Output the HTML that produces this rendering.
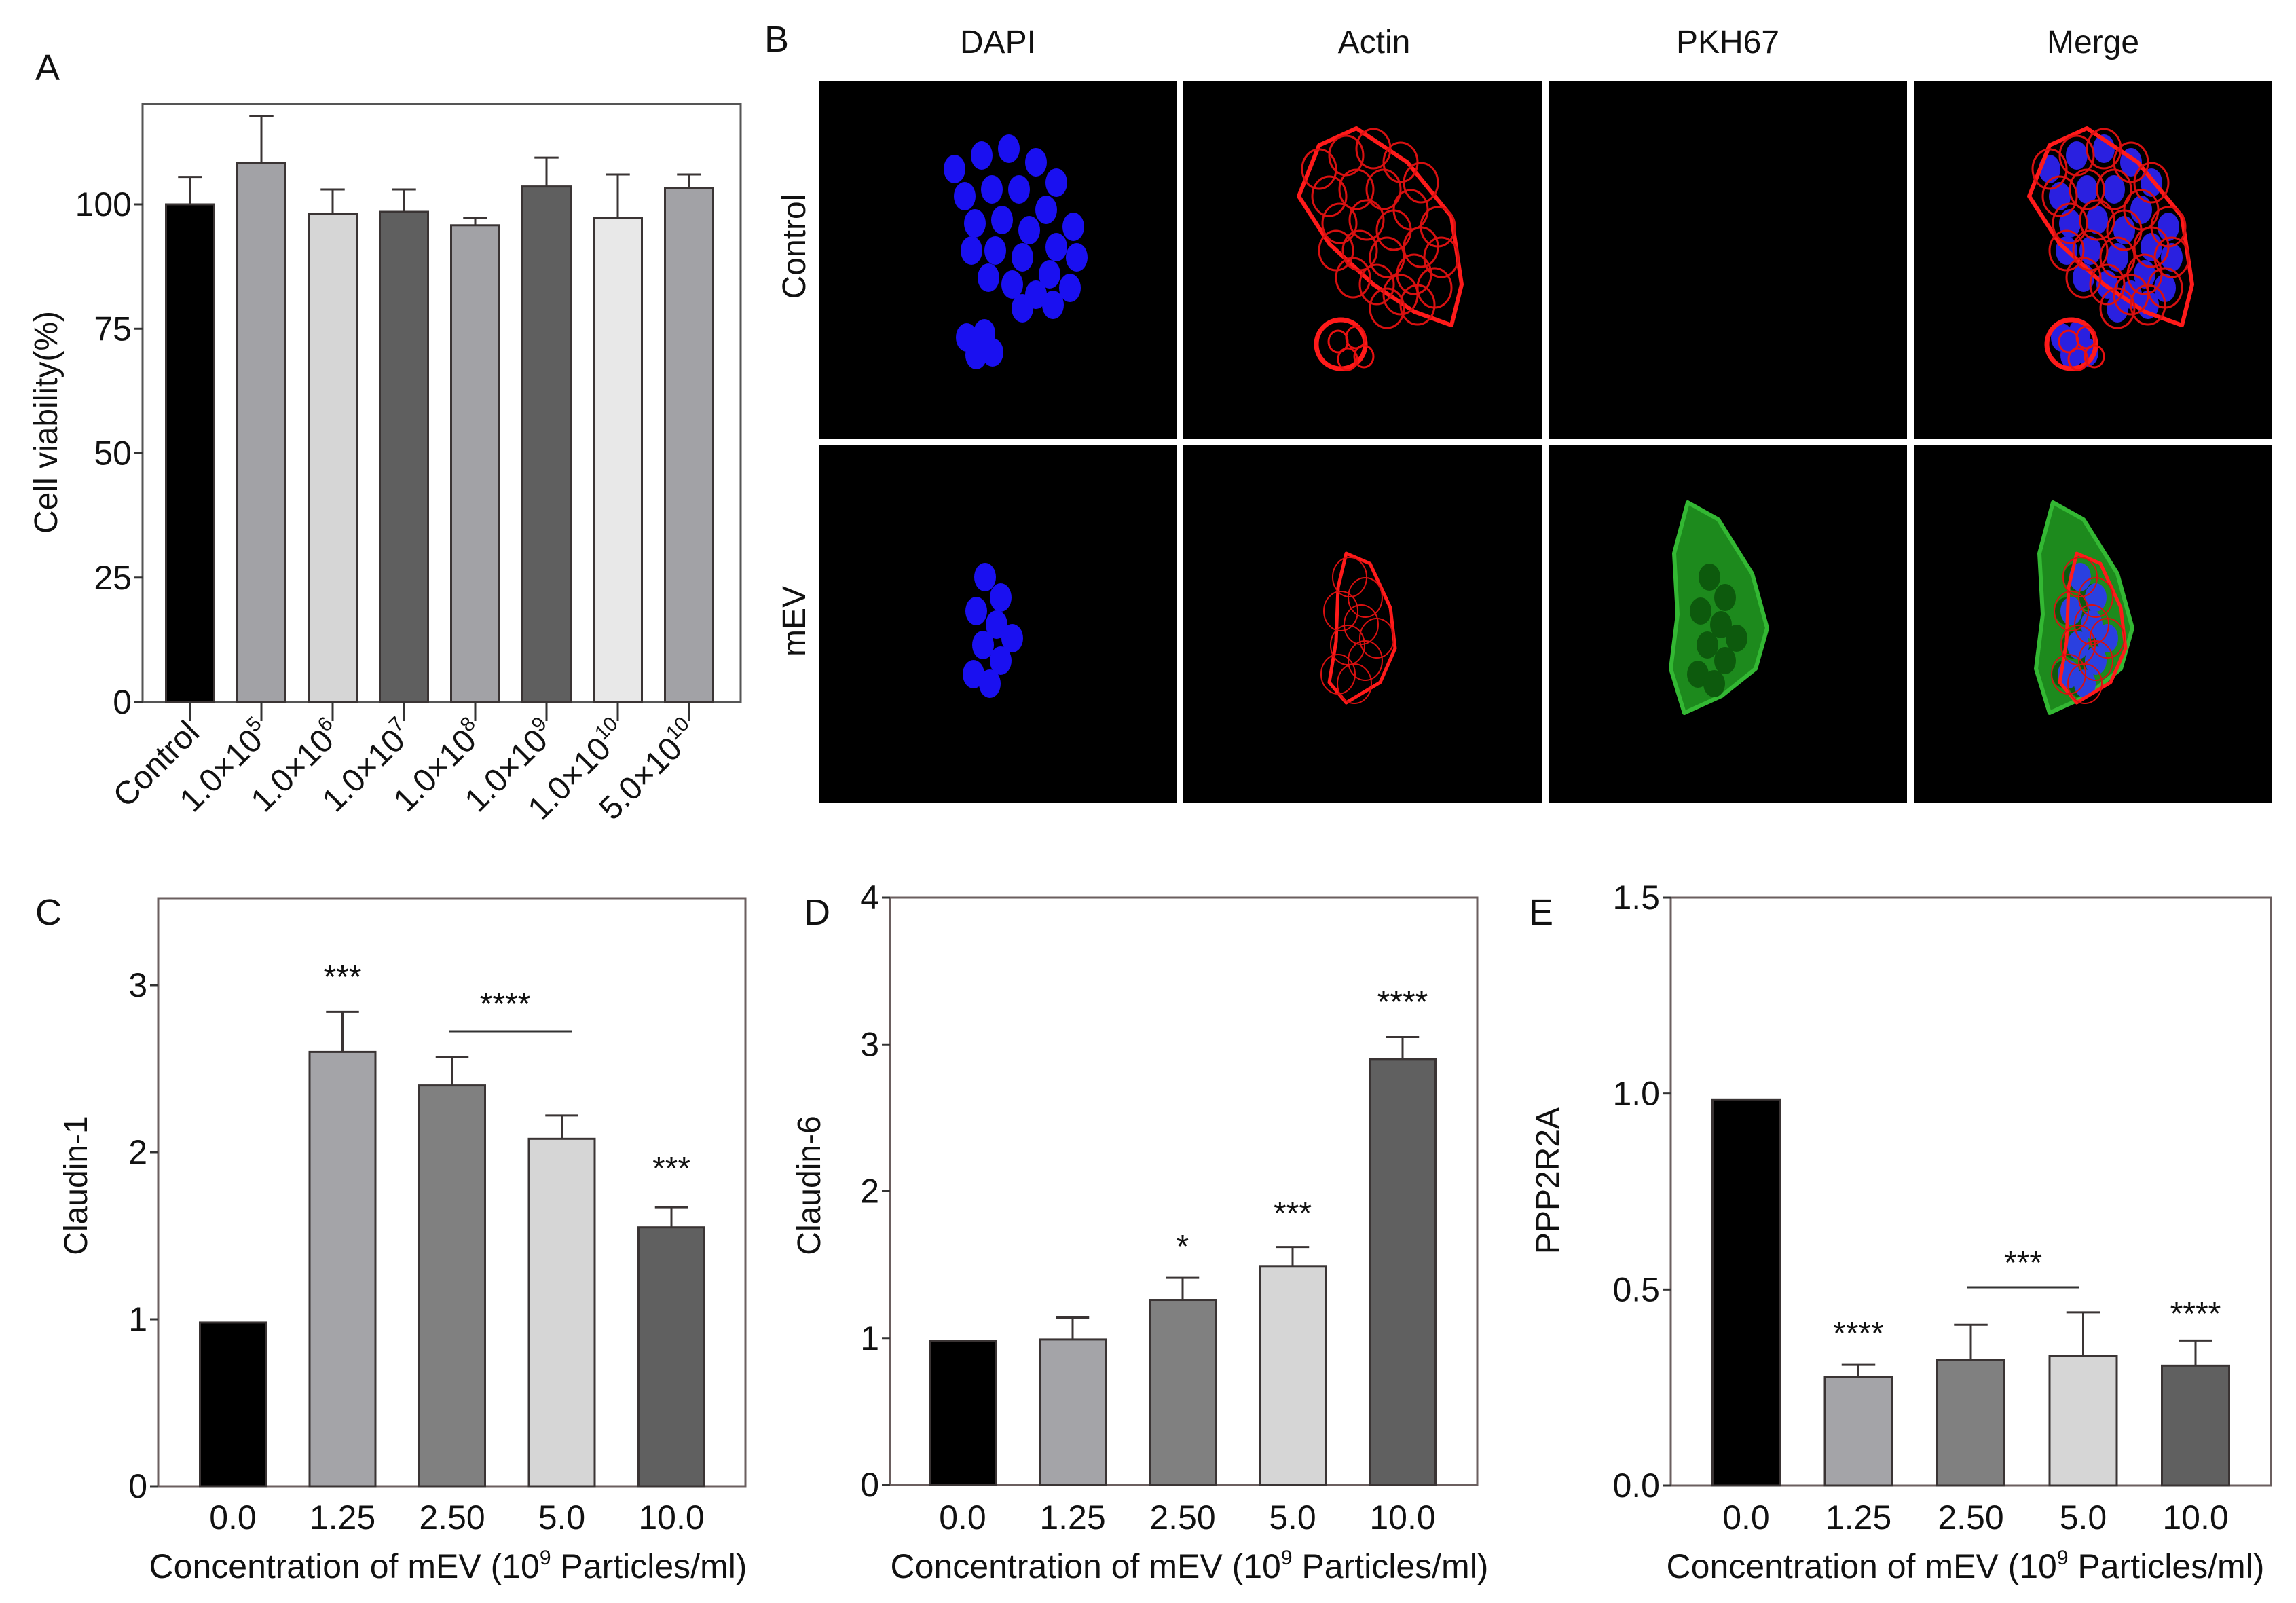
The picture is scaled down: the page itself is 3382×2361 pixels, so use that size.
<!DOCTYPE html>
<html><head><meta charset="utf-8">
<style>
html,body{margin:0;padding:0;background:#fff;}
svg{display:block;font-family:"Liberation Sans",Arial,sans-serif;}
</style></head>
<body>
<svg id="fig" width="3382" height="2361" viewBox="0 0 3382 2361" xmlns="http://www.w3.org/2000/svg">
<rect x="0" y="0" width="3382" height="2361" fill="#fff"/>
<g id="micro"></g>
<g id="charts"></g>
</svg>
<script>
// ---------- Panel A data ----------
const aCats = ["Control","1.0×10^5","1.0×10^6","1.0×10^7","1.0×10^8","1.0×10^9","1.0×10^10","5.0×10^10"];
const aValues = [100,108.3,98.1,98.5,95.8,103.6,97.3,103.3];
const aErrors = [105.5,117.8,103,103,97.2,109.4,106,106];
const aTicks = [0,25,50,75,100];
// ---------- Panel C data ----------
const cCats = ["0.0","1.25","2.50","5.0","10.0"];
const cValues = [0.98,2.6,2.4,2.08,1.55];
const cErrors = [0.98,2.84,2.57,2.22,1.67];
const cTicks = [0,1,2,3];
// ---------- Panel D data ----------
const dCats = ["0.0","1.25","2.50","5.0","10.0"];
const dValues = [0.98,0.99,1.26,1.49,2.9];
const dErrors = [0.98,1.14,1.41,1.62,3.05];
const dTicks = [0,1,2,3,4];
// ---------- Panel E data ----------
const eCats = ["0.0","1.25","2.50","5.0","10.0"];
const eValues = [0.985,0.277,0.32,0.331,0.306];
const eErrors = [0.985,0.308,0.41,0.442,0.37];
const eTicks = ["0.0","0.5","1.0","1.5"];

const NS="http://www.w3.org/2000/svg";
const charts=document.getElementById('charts');
function mk(tag,attrs,parent){const e=document.createElementNS(NS,tag);for(const k in attrs)e.setAttribute(k,attrs[k]);(parent||charts).appendChild(e);return e;}

function panel(o){
  const g=mk('g',{});
  
  
  const ys=v=>o.y0-(v-o.min)/(o.max-o.min)*(o.y0-o.yTop);
  const xs=i=>o.first+o.step*i;
  const fr=mk('rect',{x:o.left,y:o.frameTop,width:o.right-o.left,height:o.y0-o.frameTop,fill:'none',stroke:o.frameColor,'stroke-width':3},g);
  
  
  o.ticks.forEach(t=>{
    const v=parseFloat(t);const y=ys(v);
    const tl=mk('line',{x1:o.left-12,x2:o.left,y1:y,y2:y,stroke:'#333','stroke-width':3},g);
    
    
    const tx=mk('text',{x:o.left-16,y:y+17,'text-anchor':'end','font-size':o.tickFont,fill:'#111'},g);
    tx.textContent=t;
    
    
  });
  o.values.forEach((v,i)=>{
    const cx=xs(i);const w=o.barW;
    const top=ys(v);
    const b=mk('rect',{x:cx-w/2,y:top,width:w,height:o.y0-top,fill:o.colors[i],stroke:'#3a3434','stroke-width':3},g);
    
    
    const ev=o.errors[i];
    if(ev>v+0.0001){
      const ey=ys(ev);
      const el=mk('path',{d:`M${cx},${top} V${ey} M${cx-w*0.25},${ey} H${cx+w*0.25}`,stroke:'#3a3434','stroke-width':3,fill:'none'},g);
      
      
    }
    if(o.xticks){
      const xt=mk('line',{x1:cx,x2:cx,y1:o.y0,y2:o.y0+28,stroke:'#333','stroke-width':3},g);
      
      
    }
  });
  return {g,ys,xs};
}

function xLabels(p,cats,y,font){
  cats.forEach((c,i)=>{
    const t=mk('text',{x:p.xs(i),y:y,'text-anchor':'middle','font-size':font,fill:'#111'},p.g);
    t.textContent=c;
    
    
  });
}
function label(txt,x,y,size,name,extra){
  const t=mk('text',Object.assign({x:x,y:y,'font-size':size,fill:'#111'},extra||{}));
  t.textContent=txt;
  
  
  return t;
}
function xTitle(cx,y,name){
  const t=mk('text',{x:cx,y:y,'text-anchor':'middle','font-size':50,fill:'#111'});
  
  
  const a=mk('tspan',{},t);a.textContent='Concentration of mEV (10';
  const s=mk('tspan',{dy:-20,'font-size':30},t);s.textContent='9';
  const b=mk('tspan',{dy:20},t);b.textContent=' Particles/ml)';
}
function stars(txt,x,y,name){
  return label(txt,x,y,48,name,{'text-anchor':'middle'});
}
function sigLine(x1,x2,y){
  const l=mk('line',{x1:x1,x2:x2,y1:y,y2:y,stroke:'#333','stroke-width':3});
  
  
}

// ===== Panel A =====
const pA=panel({name:'panel-a-chart',cats:aCats,values:aValues,errors:aErrors,ticks:aTicks.map(String),
  left:210,right:1091,frameTop:153,y0:1034,yTop:301,min:0,max:100,barW:71,first:280,step:105,
  colors:['#000','#a2a2a6','#d6d6d6','#5f5f5f','#a2a2a6','#5f5f5f','#e8e8e8','#a2a2a6'],
  frameColor:'#555',tickFont:50,xticks:true});
aCats.forEach((c,i)=>{
  const x=pA.xs(i)+16,y=1082;
  const t=mk('text',{x:x,y:y,'text-anchor':'end','font-size':48,fill:'#111',transform:`rotate(-45 ${x} ${y})`},pA.g);
  
  
  const parts=c.split('^');
  const a=mk('tspan',{},t);a.textContent=parts[0];
  if(parts[1]){const s=mk('tspan',{dy:-20,'font-size':30},t);s.textContent=parts[1];}
});
label('Cell viability(%)',0,0,48,'y-axis-title',{'text-anchor':'middle',transform:'translate(84 622) rotate(-90)'});
label('A',52,118,54,'panel-label-a');

// ===== Panel C =====
const pC=panel({name:'panel-c-chart',cats:cCats,values:cValues,errors:cErrors,ticks:cTicks.map(String),
  left:233,right:1098,frameTop:1323,y0:2189,yTop:1451,min:0,max:3,barW:97,first:343,step:161.5,
  colors:['#000','#a4a4a8','#808080','#d6d6d6','#606060'],frameColor:'#6b5f5f',tickFont:50});
xLabels(pC,cCats,2252,50);
xTitle(660,2324,'x-axis-title');
label('Claudin-1',0,0,48,'y-axis-title',{'text-anchor':'middle',transform:'translate(128 1746) rotate(-90)'});
label('C',52,1362,54,'panel-label-c');
stars('***',pC.xs(1),1455,'significance-stars');
stars('****',744,1495,'significance-stars');
sigLine(662,842,1519);
stars('***',pC.xs(4),1737,'significance-stars');

// ===== Panel D =====
const pD=panel({name:'panel-d-chart',cats:dCats,values:dValues,errors:dErrors,ticks:dTicks.map(String),
  left:1311,right:2176,frameTop:1322,y0:2187,yTop:1322,min:0,max:4,barW:97,first:1418,step:162,
  colors:['#000','#a4a4a8','#808080','#d6d6d6','#606060'],frameColor:'#6b5f5f',tickFont:50});
xLabels(pD,dCats,2252,50);
xTitle(1752,2324,'x-axis-title');
label('Claudin-6',0,0,48,'y-axis-title',{'text-anchor':'middle',transform:'translate(1208 1746) rotate(-90)'});
label('D',1184,1362,54,'panel-label-d');
stars('*',pD.xs(2),1852,'significance-stars');
stars('***',pD.xs(3),1803,'significance-stars');
stars('****',pD.xs(4),1492,'significance-stars');

// ===== Panel E =====
const pE=panel({name:'panel-e-chart',cats:eCats,values:eValues,errors:eErrors,ticks:eTicks,
  left:2461,right:3345,frameTop:1322,y0:2188,yTop:1322,min:0,max:1.5,barW:99,first:2572,step:165.5,
  colors:['#000','#a4a4a8','#808080','#d6d6d6','#606060'],frameColor:'#6b5f5f',tickFont:50});
xLabels(pE,eCats,2252,50);
xTitle(2895,2324,'x-axis-title');
label('PPP2R2A',0,0,48,'y-axis-title',{'text-anchor':'middle',transform:'translate(2296 1739) rotate(-90)'});
label('E',2252,1362,54,'panel-label-e');
stars('****',pE.xs(1),1980,'significance-stars');
stars('***',2980,1876,'significance-stars');
sigLine(2898,3062,1896);
stars('****',pE.xs(4),1951,'significance-stars');

// ===== Panel B microscopy =====
const micro=document.getElementById('micro');
function mm(tag,attrs,parent){const e=document.createElementNS(NS,tag);for(const k in attrs)e.setAttribute(k,attrs[k]);parent.appendChild(e);return e;}
const colX=[1206,1743,2281,2819], rowY=[119,655], pw=528, ph=527;
const colNames=['DAPI','Actin','PKH67','Merge'], colCx=[1470,2024,2545,3083];
const ctrlNuc=[[200,130],[240,110],[280,100],[320,120],[350,150],[215,170],[255,160],[295,160],[335,190],[375,215],[230,210],[270,205],[310,220],[350,245],[380,260],[260,250],[300,260],[340,285],[370,305],[285,300],[320,315],[250,290],[225,250],[300,335],[345,330]];
const ctrlSmall=[[218,378],[244,372],[232,404],[256,400]];
const mevNuc=[[245,195],[268,225],[232,245],[262,265],[285,285],[242,295],[268,318],[228,338],[252,352]];
function nuclei(p,list,col){list.forEach(n=>mm('ellipse',{cx:n[0],cy:n[1],rx:16,ry:21,fill:col},p));}
function actin(p,list,outline,sw){
  mm('path',{d:outline,fill:'none',stroke:'#ff1a1a','stroke-width':sw+3,'stroke-linejoin':'round'},p);
  list.forEach(n=>mm('ellipse',{cx:n[0],cy:n[1],rx:25,ry:29,fill:'none',stroke:'#d81010','stroke-width':sw},p));
}
const ctrlOutline='M200,95 L255,70 L330,120 L395,200 L410,300 L395,360 L340,340 L280,300 L215,240 L170,170 Z';
const smallRing='M196,388 a36,36 0 1,0 72,0 a36,36 0 1,0 -72,0';
const mevOutline='M240,160 L275,175 L305,240 L312,300 L290,350 L240,380 L215,350 L225,290 L228,210 Z';
const greenOutline='M205,85 L250,110 L300,190 L322,270 L305,330 L255,370 L200,395 L180,330 L190,250 L185,160 Z';
for(let r=0;r<2;r++)for(let c=0;c<4;c++){
  const g=mm('g',{transform:`translate(${colX[c]},${rowY[r]})`},micro);
  
  
  mm('rect',{x:0,y:0,width:pw,height:ph,fill:'#000'},g);
  if(r===0){
    if(c===0){nuclei(g,ctrlNuc,'#1a10f0');nuclei(g,ctrlSmall,'#1a10f0');}
    if(c===1||c===3){
      if(c===3){nuclei(g,ctrlNuc,'#2a20e0');nuclei(g,ctrlSmall,'#2a20e0');}
      actin(g,ctrlNuc,ctrlOutline,3);
      mm('path',{d:smallRing,fill:'none',stroke:'#ff1a1a','stroke-width':7},g);
      ctrlSmall.forEach(n=>mm('ellipse',{cx:n[0]+10,cy:n[1]+6,rx:14,ry:16,fill:'none',stroke:'#e81010','stroke-width':3},g));
    }
  } else {
    if(c===0) nuclei(g,mevNuc,'#1a10f0');
    if(c===2||c===3){
      mm('path',{d:greenOutline,fill:'#1d8a1d',stroke:'#33b833','stroke-width':6,'stroke-linejoin':'round'},g);
      mevNuc.forEach(n=>mm('ellipse',{cx:n[0]-8,cy:n[1],rx:16,ry:20,fill:'#0d5a0d'},g));
    }
    if(c===3) nuclei(g,mevNuc,'#2a40e0');
    if(c===1||c===3) actin(g,mevNuc,mevOutline,2);
  }
}
colNames.forEach((n,i)=>{
  const t=mm('text',{x:colCx[i],y:78,'text-anchor':'middle','font-size':48,fill:'#111'},micro);
  t.textContent=n;
  
  
});
[['Control',363],['mEV',915]].forEach(([n,y])=>{
  const t=mm('text',{x:0,y:0,'text-anchor':'middle','font-size':48,fill:'#111',transform:`translate(1186 ${y}) rotate(-90)`},micro);
  t.textContent=n;
  
  
});
const bl=mm('text',{x:1126,y:76,'font-size':54,fill:'#111'},micro);
bl.textContent='B';


</script>
</body></html>
